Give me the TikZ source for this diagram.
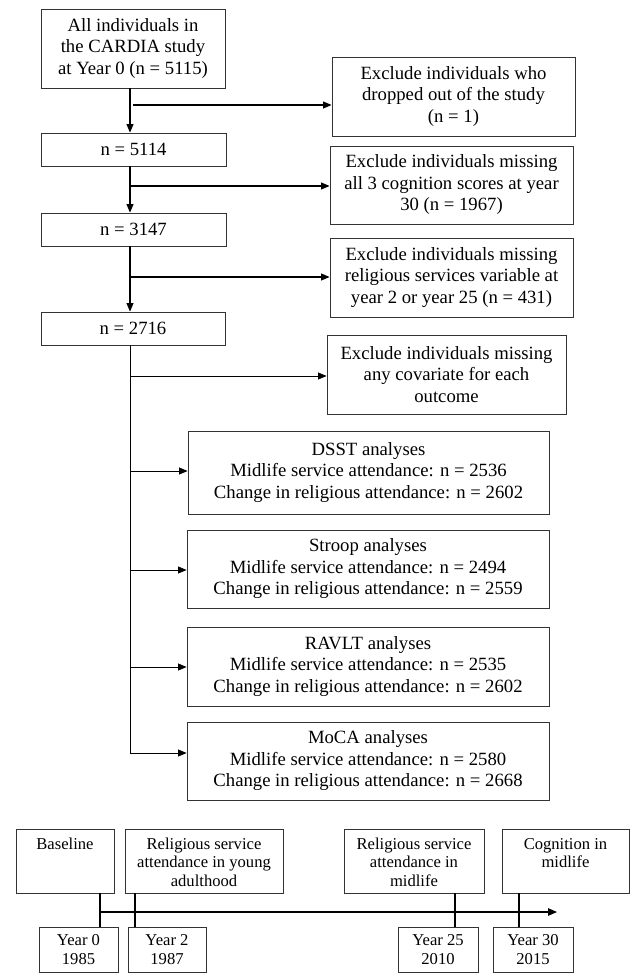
\documentclass[tikz,border=0pt]{standalone}
\usepackage{fontspec}
\setmainfont{Liberation Serif}
\usetikzlibrary{arrows.meta,calc}
\newcommand\bigfnt{\fontsize{18.7}{21.5}\selectfont}
\newcommand\smallfnt{\fontsize{16.6}{18.5}\selectfont}
\begin{document}
\begin{tikzpicture}[x=1pt,y=-1pt,
  fbox/.style={draw=black!80, line width=0.9pt, inner sep=0pt, align=center, font=\bigfnt},
  tbox/.style={draw=black!80, line width=0.9pt, inner sep=0pt, align=center, font=\smallfnt},
  tlab/.style={anchor=north, inner sep=0pt, align=center, font=\smallfnt},
  arrtop/.style={line width=1.1pt, -{Triangle[length=8.5pt,width=7pt]}},
  arrlow/.style={line width=0.75pt, -{Triangle[length=8.5pt,width=7pt]}},
  trunk/.style={line width=0.75pt},
  ticks/.style={line width=1.8pt},
  tline/.style={line width=1.1pt, -{Triangle[length=9pt,width=7.5pt]}}]
\useasboundingbox (0,0) rectangle (630,974);

% main column
\node[fbox, minimum width=184pt, minimum height=79pt] (all) at (133,48.5) {All individuals in\\the CARDIA study\\at Year 0 (n = 5115)};
\node[fbox, minimum width=185pt, minimum height=33pt] (n1) at (133.5,149.5) {n = 5114};
\node[fbox, minimum width=185pt, minimum height=33pt] (n2) at (133.5,229.5) {n = 3147};
\node[fbox, minimum width=184pt, minimum height=33pt] (n3) at (133,328.5) {n = 2716};

% exclusion boxes
\node[fbox, minimum width=243pt, minimum height=79pt] (ex1) at (453.5,96.5) {Exclude individuals who\\dropped out of the study\\(n = 1)};
\node[fbox, minimum width=243pt, minimum height=78pt] (ex2) at (451.5,185) {Exclude individuals missing\\all 3 cognition scores at year\\30 (n = 1967)};
\node[fbox, minimum width=243pt, minimum height=79pt] (ex3) at (451.5,277.5) {Exclude individuals missing\\religious services variable at\\year 2 or year 25 (n = 431)};
\node[fbox, minimum width=239pt, minimum height=79pt] (ex4) at (446.5,374.5) {Exclude individuals missing\\any covariate for each\\outcome};

% analyses boxes
\node[fbox, minimum width=361pt, minimum height=83pt] (dsst) at (368.5,472.5) {DSST analyses\\Midlife service attendance: n = 2536\\Change in religious attendance: n = 2602};
\node[fbox, minimum width=362pt, minimum height=78pt] (stroop) at (368,569) {Stroop analyses\\Midlife service attendance: n = 2494\\Change in religious attendance: n = 2559};
\node[fbox, minimum width=362pt, minimum height=79pt] (ravlt) at (368,666.5) {RAVLT analyses\\Midlife service attendance: n = 2535\\Change in religious attendance: n = 2602};
\node[fbox, minimum width=362pt, minimum height=78pt] (moca) at (368,761) {MoCA analyses\\Midlife service attendance: n = 2580\\Change in religious attendance: n = 2668};

% trunk
\coordinate (t) at (130,0);
\draw[arrtop] (all.south -| t) -- (n1.north -| t);
\draw[arrtop] (n1.south -| t) -- (n2.north -| t);
\draw[arrtop] (n2.south -| t) -- (n3.north -| t);
\coordinate (j1) at (133,105);
\coordinate (j2) at (130,186);
\coordinate (j3) at (130,277);
\coordinate (j4) at (130.5,376);
\coordinate (j5) at (130.5,471);
\coordinate (j6) at (130.5,570);
\coordinate (j7) at (130.5,667);
\coordinate (j8) at (130,753);
\draw[arrtop] (j1) -- (j1 -| ex1.west);
\draw[arrtop] (j2) -- (j2 -| ex2.west);
\draw[arrtop] (j3) -- (j3 -| ex3.west);
\draw[trunk] (n3.south -| t) -- (j8);
\draw[arrlow] (j4) -- (j4 -| ex4.west);
\draw[arrlow] (j5) -- (j5 -| dsst.west);
\draw[arrlow] (j6) -- (j6 -| stroop.west);
\draw[arrlow] (j7) -- (j7 -| ravlt.west);
\draw[arrlow] (j8) -- (j8 -| moca.west);

% timeline boxes (top row)
\node[tbox, minimum width=98pt, minimum height=64pt] (base) at (65,861) {};
\node[tlab] (baset) at (65,836) {\strut Baseline};
\node[tbox, minimum width=158pt, minimum height=64pt] (young) at (204,861) {};
\node[tlab] (youngt) at (204,836) {\strut Religious service\\attendance in young\\adulthood};
\node[tbox, minimum width=140pt, minimum height=64pt] (mid) at (414,861) {};
\node[tlab] (midt) at (414,836) {\strut Religious service\\attendance in\\midlife};
\node[tbox, minimum width=127pt, minimum height=64pt] (cog) at (565.5,861) {};
\node[tlab] (cogt) at (565.5,836) {\strut Cognition in\\midlife};

% timeline boxes (bottom row)
\node[tbox, minimum width=79pt, minimum height=45pt] (y0) at (78.5,949.5) {Year 0\\1985};
\node[tbox, minimum width=78pt, minimum height=45pt] (y2) at (167,949.5) {Year 2\\1987};
\node[tbox, minimum width=80pt, minimum height=45pt] (y25) at (438,949.5) {Year 25\\2010};
\node[tbox, minimum width=80pt, minimum height=45pt] (y30) at (533,949.5) {Year 30\\2015};

% timeline
\coordinate (c1) at (100,912);
\coordinate (c2) at (135,912);
\coordinate (c3) at (455,912);
\coordinate (c4) at (519,912);
\coordinate (cend) at (557,912);
\draw[tline] (c1) -- (cend);
\draw[ticks] (base.south -| c1) -- (y0.north -| c1);
\draw[ticks] (young.south -| c2) -- (y2.north -| c2);
\draw[ticks] (mid.south -| c3) -- (y25.north -| c3);
\draw[ticks] (cog.south -| c4) -- (y30.north -| c4);
\end{tikzpicture}
\end{document}
